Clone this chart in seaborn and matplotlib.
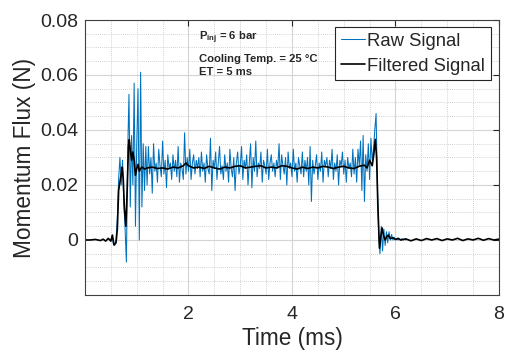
import numpy as np
import pandas as pd
import matplotlib
matplotlib.use("Agg")
import matplotlib.pyplot as plt
import seaborn as sns
from matplotlib.ticker import MultipleLocator

# ---------------- data (values in mN, converted to N below) ----------------
raw_t0 = 0.5     # ms, first raw sample shown
raw_dt = 0.025   # ms, sampling step
raw_mN = [
    0, 1.5, -1.5, -2, 0, 8, 22, 30, 20, 29, 14, 4, -8, 32, 53, 12, 38, 20, 57, 5,
    35, 55, 0, 61, 12, 35, 18, 34,
    20, 34, 24, 30, 17, 35, 25, 28, 21, 33, 27, 23, 36, 24, 29, 19, 31, 26, 28, 22,
    31, 25, 29, 23, 34, 21, 28, 26, 22, 39, 24, 30, 25, 33, 22, 28, 31, 24, 29, 26,
    30, 23, 32, 25, 28, 21, 31, 26, 24, 37, 18, 29, 26, 32, 22, 28, 34, 24, 27, 22,
    31, 25, 28, 21, 33, 26, 23, 30, 18, 28, 32, 24, 27, 34, 22, 29, 26, 31, 20, 28,
    35, 19, 30, 25, 36, 23, 28, 26, 32, 21, 29, 27, 24, 33, 22, 28, 31, 25, 28, 23,
    29, 26, 35, 22, 31, 27, 24, 30, 20, 32, 26, 28, 23, 33, 25, 28, 21, 30, 27, 24,
    32, 23, 29, 25, 30, 20, 34, 14, 29, 24, 27, 31, 22, 28, 25, 32, 21, 29, 27, 30,
    23, 29, 26, 33, 22, 28, 25, 31, 20, 29, 27, 32, 24, 29, 21, 30, 26, 28, 23, 33,
    24, 30, 21, 33, 27, 36, 18, 38, 14, 31, 25, 35, 22, 37, 29,
    33, 40, 46, 20, 2, -5, 5, -4, 4, -2, 3, -1, 3, 0, 2, 0, 1, 0, 0.5, 0,
    0.5, 0, 0.5, 0, 0.3, 0,
]

filt_t = [0, 0.1, 0.2, 0.3, 0.35, 0.4, 0.45, 0.5, 0.53, 0.56, 0.6, 0.625, 0.65,
          0.675, 0.7, 0.72, 0.74, 0.76, 0.79, 0.815, 0.84, 0.855, 0.875, 0.9,
          0.925, 0.95, 0.975, 1.0, 1.025, 1.05, 1.075, 1.1, 1.15, 1.2,
          1.3, 1.4, 1.5, 1.6, 1.7, 1.8, 1.9, 1.95, 2.0, 2.1, 2.2, 2.3, 2.4, 2.5,
          2.6, 2.7, 2.8, 2.9, 3.0, 3.1, 3.2, 3.3, 3.4, 3.5, 3.6, 3.7, 3.8, 3.9,
          4.0, 4.1, 4.2, 4.3, 4.4, 4.5, 4.6, 4.7, 4.8, 4.9, 5.0, 5.1, 5.2, 5.3,
          5.4, 5.45, 5.5, 5.55, 5.58, 5.61, 5.635, 5.66, 5.69, 5.715, 5.74, 5.77,
          5.8, 5.83, 5.86, 5.9, 5.95, 6.0, 6.05, 6.1, 6.2, 6.3, 6.4, 6.5, 6.6,
          6.7, 6.8, 6.9, 7.0, 7.1, 7.2, 7.3, 7.4, 7.5, 7.6, 7.7, 7.8, 7.9, 8.0]
filt_mN = [0, 0, 0.2, -0.2, 0.3, -0.4, 0.6, -0.4, 1.8, -1.8, -1.0, 4, 18,
           21, 24, 26.5, 22, 12, 5, 18, 34, 36.5, 33, 29,
           32, 29, 23.5, 26, 27.5, 25, 26, 26.5, 25.8, 26.2,
           26.5, 26, 26.2, 25.8, 26.5, 26.2, 27, 28, 27, 26.2, 26.5, 26, 26.8, 26.2,
           25.8, 26.5, 26.2, 26.8, 27, 26.2, 26.5, 26.8, 27, 26.2, 26.5, 26.2, 27, 26.8,
           26.2, 25.8, 26.5, 26, 26.5, 26.2, 26.8, 26.5, 26, 26.5, 26.8, 26.2, 26, 26.8,
           27.2, 26.2, 29, 27, 31, 36.6, 30, 12, -3, 1, 4.4, 1.5,
           0, 1.2, 1.8, 0.5, 0.8, 0.2, 0.6, 0, 0.4, -0.3, 0.4, -0.2, 0.5,
           0, 0.5, -0.2, 0.4, 0, 0.6, -0.2, 0.4, 0, 0.6, -0.1, 0.5, 0, 0.3]

raw_t = raw_t0 + raw_dt * np.arange(len(raw_mN))
raw_df = pd.DataFrame({"t": raw_t, "F": np.array(raw_mN) / 1000.0})
filt_df = pd.DataFrame({"t": filt_t, "F": np.array(filt_mN) / 1000.0})

# ---------------- style ----------------
sns.set_style("white")
plt.rcParams["font.family"] = ["Liberation Sans", "DejaVu Sans"]
plt.rcParams["mathtext.fontset"] = "custom"
plt.rcParams["mathtext.rm"] = "Liberation Sans"
plt.rcParams["mathtext.bf"] = "Liberation Sans:bold"

fig = plt.figure(figsize=(5.05, 3.54), dpi=100)
ax = fig.add_axes([0.1683, 0.1667, 0.8198, 0.7768])

sns.lineplot(data=raw_df, x="t", y="F", ax=ax, color="#0072BD", lw=0.75,
             label="Raw Signal", estimator=None, sort=False)
sns.lineplot(data=filt_df, x="t", y="F", ax=ax, color="black", lw=1.2,
             label="Filtered Signal", estimator=None, sort=False)

ax.set_xlim(0, 8)
ax.set_ylim(-0.02, 0.08)
ax.set_xticks([2, 4, 6, 8])
ax.set_xticklabels(["2", "4", "6", "8"])
ax.set_yticks([0, 0.02, 0.04, 0.06, 0.08])
ax.set_yticklabels(["0", "0.02", "0.04", "0.06", "0.08"])
ax.xaxis.set_minor_locator(MultipleLocator(0.5))
ax.yaxis.set_minor_locator(MultipleLocator(0.005))

ax.grid(True, which="major", color="#d4d4d4", lw=0.8, ls="-")
ax.grid(True, which="minor", color="#c4c4c4", lw=0.6, ls=(0, (1, 1.5)))
ax.set_axisbelow(True)

ax.tick_params(which="major", direction="in", length=4, width=0.8,
               top=True, right=True, labelsize=14, colors="#262626",
               labelcolor="#262626")
ax.tick_params(axis="y", which="major", pad=5)
ax.tick_params(axis="x", which="major", pad=8)
ax.tick_params(which="minor", length=0, top=True, right=True)
for s in ax.spines.values():
    s.set_color("#404040")
    s.set_linewidth(0.8)

ax.set_xlabel("Time (ms)", fontsize=16.3, color="#262626", labelpad=3)
ax.set_ylabel("Momentum Flux (N)", fontsize=16.3, color="#262626", labelpad=2.5)

ax.text(2.2, 0.0727, r"P$_{\mathbf{inj}}$ = 6 bar", fontsize=8.1,
        fontweight="bold", va="baseline", ha="left")
ax.text(2.2, 0.0649, "Cooling Temp. = 25 \u00b0C", fontsize=8.1,
        fontweight="bold", va="baseline", ha="left")
ax.text(2.2, 0.0601, "ET = 5 ms", fontsize=8.1,
        fontweight="bold", va="baseline", ha="left")

leg = ax.legend(loc="upper right", bbox_to_anchor=(0.980, 0.9735),
                borderaxespad=0, fontsize=13.3, frameon=True, fancybox=False,
                handlelength=1.35, handletextpad=0.1, borderpad=0.3,
                labelspacing=0.42, framealpha=1)
leg.get_frame().set_edgecolor("#262626")
leg.get_frame().set_linewidth(0.8)

fig.savefig("out.png", dpi=100)
